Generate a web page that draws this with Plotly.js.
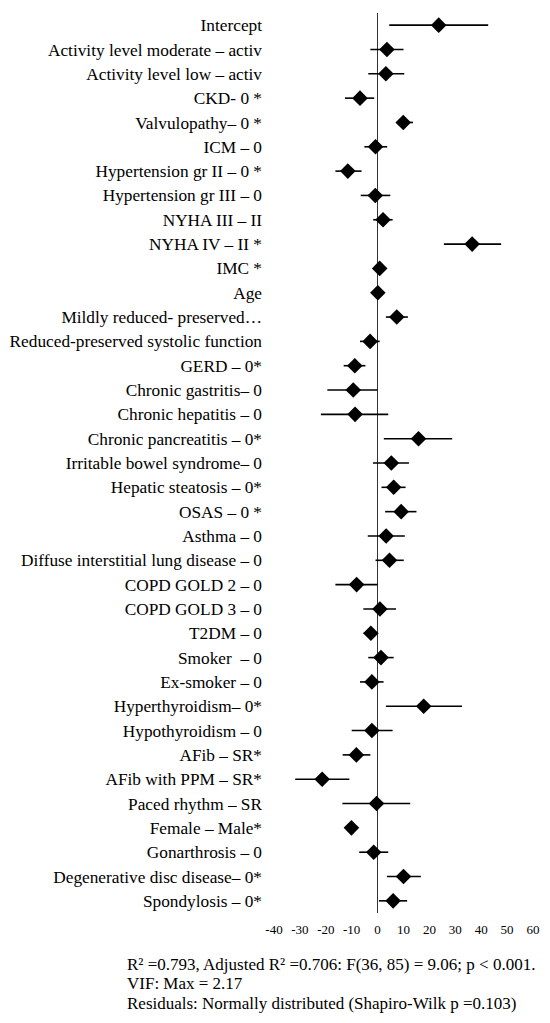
<!DOCTYPE html>
<html>
<head>
<meta charset="utf-8">
<script src="https://cdn.plot.ly/plotly-3.0.1.min.js"></script>
<style>
  body { margin: 0; background: #fff; }
  #plot { width: 550px; height: 1023px; }
</style>
</head>
<body>
<div id="plot"></div>
<script>
  // predictors, top to bottom
  var labels = [
    "Intercept",
    "Activity level moderate \u2013 activ",
    "Activity level low \u2013 activ",
    "CKD- 0 *",
    "Valvulopathy\u2013 0 *",
    "ICM \u2013 0",
    "Hypertension gr II \u2013 0 *",
    "Hypertension gr III \u2013 0",
    "NYHA III \u2013 II",
    "NYHA IV \u2013 II *",
    "IMC *",
    "Age",
    "Mildly reduced- preserved\u2026",
    "Reduced-preserved systolic function",
    "GERD \u2013 0*",
    "Chronic gastritis\u2013 0",
    "Chronic hepatitis \u2013 0",
    "Chronic pancreatitis \u2013 0*",
    "Irritable bowel syndrome\u2013 0",
    "Hepatic steatosis \u2013 0*",
    "OSAS \u2013 0 *",
    "Asthma \u2013 0",
    "Diffuse interstitial lung disease \u2013 0",
    "COPD GOLD 2 \u2013 0",
    "COPD GOLD 3 \u2013 0",
    "T2DM \u2013 0",
    "Smoker  \u2013 0",
    "Ex-smoker \u2013 0",
    "Hyperthyroidism\u2013 0*",
    "Hypothyroidism \u2013 0",
    "AFib \u2013 SR*",
    "AFib with PPM \u2013 SR*",
    "Paced rhythm \u2013 SR",
    "Female \u2013 Male*",
    "Gonarthrosis \u2013 0",
    "Degenerative disc disease\u2013 0*",
    "Spondylosis \u2013 0*"
  ];

  // coefficient estimates
  var est = [23.6, 3.6, 3.2, -6.8, 9.9, -0.8, -11.5, -0.9, 2.1, 36.5,
             0.8, 0.1, 7.4, -2.9, -8.8, -9.4, -8.7, 15.8, 5.3, 6.2,
             9.1, 3.3, 4.6, -8.1, 0.9, -2.6, 1.3, -2.2, 17.8, -2.2,
             -8.2, -21.4, -0.4, -10.1, -1.5, 10.0, 6.0];

  // 95% CI lower bounds
  var lo = [4.5, -2.8, -3.6, -12.6, 7.7, -5.1, -16.3, -6.5, -1.7, 25.6,
            0.3, -0.3, 3.2, -6.8, -13.1, -19.4, -21.9, 2.4, -1.8, 1.5,
            2.9, -3.8, -0.8, -16.3, -5.5, -5.4, -3.6, -6.8, 3.2, -10.0,
            -13.5, -31.8, -13.6, -12.0, -7.1, 3.6, 0.5];

  // 95% CI upper bounds
  var hi = [42.7, 10.0, 10.3, -1.3, 13.7, 3.7, -6.2, 4.9, 5.8, 47.7,
            1.3, 0.5, 11.7, 0.8, -4.7, 0.0, 4.1, 28.8, 12.1, 10.8,
            15.0, 10.5, 10.1, 0.0, 7.1, 0.1, 6.2, 2.3, 32.6, 5.8,
            -2.8, -10.9, 12.6, -8.2, 4.1, 16.7, 11.4];

  var xTicks = [-40, -30, -20, -10, 0, 10, 20, 30, 40, 50, 60];

  // model summary lines under the chart
  var notes = [
    "R\u00b2 =0.793, Adjusted R\u00b2 =0.706: F(36, 85) = 9.06; p &lt; 0.001.",
    "VIF: Max = 2.17",
    "Residuals: Normally distributed (Shapiro-Wilk p =0.103)"
  ];

  var trace1 = {
    x: est,
    y: labels,
    type: "scatter",
    mode: "markers",
    marker: { symbol: "diamond", size: 12, color: "#000" },
    error_x: {
      type: "data",
      symmetric: false,
      array: hi.map((h, i) => h - est[i]),
      arrayminus: lo.map((l, i) => est[i] - l),
      width: 0,
      thickness: 1.6,
      color: "#000"
    },
    hoverinfo: "x+y"
  };

  var data = [trace1];

  var layout = {
    width: 550,
    height: 1023,
    showlegend: false,
    paper_bgcolor: "#fff",
    plot_bgcolor: "#fff",
    font: { family: "Liberation Serif, Times New Roman, serif", color: "#000" },
    margin: { l: 274, r: 17, t: 13, b: 110 },
    xaxis: {
      range: [-40, 60],
      tickvals: xTicks,
      ticktext: xTicks.map(String),
      showgrid: false,
      showline: false,
      zeroline: true,
      zerolinecolor: "#333",
      zerolinewidth: 1.5,
      ticks: "",
      ticklabelstandoff: 7,
      tickfont: { size: 13, color: "#000" },
      fixedrange: true
    },
    yaxis: {
      type: "category",
      categoryorder: "array",
      categoryarray: labels,
      range: [labels.length - 0.5, -0.5],
      showgrid: false,
      showline: false,
      zeroline: false,
      ticks: "",
      ticklabelstandoff: 11,
      tickfont: { size: 17.3, color: "#000" },
      fixedrange: true
    },
    // one annotation per line, 19 px apart
    annotations: notes.map((t, i) => ({
      xref: "paper",
      yref: "paper",
      x: -0.576,
      y: (913 - (965 + 19 * i)) / 900,
      xanchor: "left",
      yanchor: "middle",
      align: "left",
      showarrow: false,
      font: { size: 17, color: "#000" },
      text: t
    }))
  };

  Plotly.newPlot("plot", data, layout, { displayModeBar: false, staticPlot: true });
</script>
</body>
</html>
